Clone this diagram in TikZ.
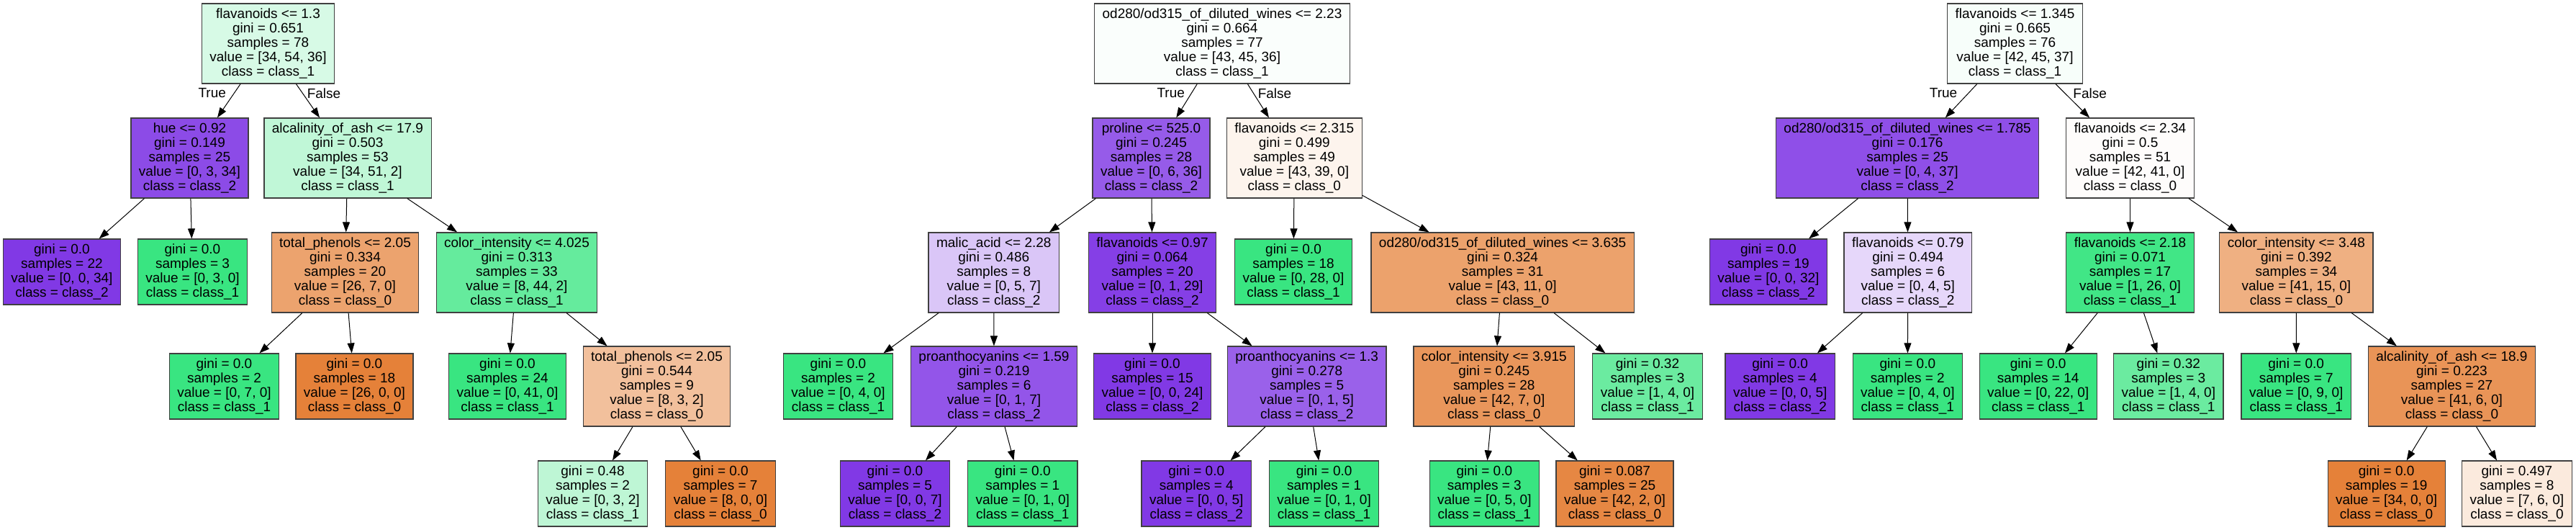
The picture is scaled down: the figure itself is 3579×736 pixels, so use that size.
\documentclass[tikz,border=0pt]{standalone}
\usepackage{fontspec}
\setmainfont{Liberation Sans}
\usetikzlibrary{arrows.meta}
\definecolor{corange}{RGB}{229,129,57}
\definecolor{cgreen}{RGB}{57,229,129}
\definecolor{cpurple}{RGB}{129,57,229}
\newcommand\splittxt[5]{#1\\gini = #2\\samples = #3\\value = [#4]\\class = class\_#5}
\newcommand\leaftxt[4]{gini = #1\\samples = #2\\value = [#3]\\class = class\_#4}
\begin{document}
\begin{tikzpicture}[x=1pt,y=-1pt,
  box/.style={draw=black!75, line width=1.2pt, rectangle, align=center, inner xsep=11pt, inner ysep=0pt, font=\fontsize{19}{20}\selectfont},
  split/.style={box, minimum height=111pt},
  leaf/.style={box, minimum height=91pt},
  edge/.style={draw=black, line width=1pt, -{Triangle[length=14pt,width=10pt]}},
  elab/.style={font=\fontsize{19}{20}\selectfont, inner sep=0pt}
]
\fill[white] (0,0) rectangle (3579,736);
\useasboundingbox (0,0) rectangle (3579,736);

% ---------- Tree 1 ----------
\node[split, fill=cgreen!20!white] (a0) at (372.5,60.5) {\splittxt{flavanoids <= 1.3}{0.651}{78}{34, 54, 36}{1}};
\node[split, fill=cpurple!91!white] (a1) at (263.5,219.5) {\splittxt{hue <= 0.92}{0.149}{25}{0, 3, 34}{2}};
\node[split, fill=cgreen!32!white] (a2) at (483,219.5) {\splittxt{alcalinity\_of\_ash <= 17.9}{0.503}{53}{34, 51, 2}{1}};
\node[leaf, fill=cpurple] (a3) at (86,377.5) {\leaftxt{0.0}{22}{0, 0, 34}{2}};
\node[leaf, fill=cgreen] (a4) at (267.5,377.5) {\leaftxt{0.0}{3}{0, 3, 0}{1}};
\node[split, fill=corange!73!white] (a5) at (479.5,378.5) {\splittxt{total\_phenols <= 2.05}{0.334}{20}{26, 7, 0}{0}};
\node[split, fill=cgreen!78!white] (a6) at (718,378.5) {\splittxt{color\_intensity <= 4.025}{0.313}{33}{8, 44, 2}{1}};
\node[leaf, fill=cgreen] (a7) at (311.5,536.5) {\leaftxt{0.0}{2}{0, 7, 0}{1}};
\node[leaf, fill=corange] (a8) at (492.5,536.5) {\leaftxt{0.0}{18}{26, 0, 0}{0}};
\node[leaf, fill=cgreen] (a9) at (705,536.5) {\leaftxt{0.0}{24}{0, 41, 0}{1}};
\node[split, fill=corange!50!white] (a10) at (912.5,536.5) {\splittxt{total\_phenols <= 2.05}{0.544}{9}{8, 3, 2}{0}};
\node[leaf, fill=cgreen!33!white] (a11) at (823.5,685.5) {\leaftxt{0.48}{2}{0, 3, 2}{1}};
\node[leaf, fill=corange] (a12) at (1001,685.5) {\leaftxt{0.0}{7}{8, 0, 0}{0}};
\foreach \p/\c in {a0/a1,a0/a2,a1/a3,a1/a4,a2/a5,a2/a6,a5/a7,a5/a8,a6/a9,a6/a10,a10/a11,a10/a12}
  \draw[edge] (\p) -- (\c);
\node[elab] (ta) at (294.7,129.5) {True};
\node[elab] (fa) at (450,129.5) {False};

% ---------- Tree 2 ----------
\node[split, fill=cgreen!2.5!white] (b0) at (1698,60.5) {\splittxt{od280/od315\_of\_diluted\_wines <= 2.23}{0.664}{77}{43, 45, 36}{1}};
\node[split, fill=cpurple!83!white] (b1) at (1599.5,219.5) {\splittxt{proline <= 525.0}{0.245}{28}{0, 6, 36}{2}};
\node[split, fill=corange!9!white] (b2) at (1798.3,219.5) {\splittxt{flavanoids <= 2.315}{0.499}{49}{43, 39, 0}{0}};
\node[split, fill=cpurple!29!white] (b3) at (1380.8,378.5) {\splittxt{malic\_acid <= 2.28}{0.486}{8}{0, 5, 7}{2}};
\node[split, fill=cpurple!97!white] (b4) at (1601,378.5) {\splittxt{flavanoids <= 0.97}{0.064}{20}{0, 1, 29}{2}};
\node[leaf, fill=cgreen] (b5) at (1797,377.5) {\leaftxt{0.0}{18}{0, 28, 0}{1}};
\node[split, fill=corange!74!white] (b6) at (2087.6,378.5) {\splittxt{od280/od315\_of\_diluted\_wines <= 3.635}{0.324}{31}{43, 11, 0}{0}};
\node[leaf, fill=cgreen] (b7) at (1164.5,536.5) {\leaftxt{0.0}{2}{0, 4, 0}{1}};
\node[split, fill=cpurple!86!white] (b8) at (1381,536.5) {\splittxt{proanthocyanins <= 1.59}{0.219}{6}{0, 1, 7}{2}};
\node[leaf, fill=cpurple] (b9) at (1601,536.5) {\leaftxt{0.0}{15}{0, 0, 24}{2}};
\node[split, fill=cpurple!80!white] (b10) at (1815.7,536.5) {\splittxt{proanthocyanins <= 1.3}{0.278}{5}{0, 1, 5}{2}};
\node[split, fill=corange!83!white] (b11) at (2075.8,536.5) {\splittxt{color\_intensity <= 3.915}{0.245}{28}{42, 7, 0}{0}};
\node[leaf, fill=cgreen!75!white] (b12) at (2289,536.5) {\leaftxt{0.32}{3}{1, 4, 0}{1}};
\node[leaf, fill=cpurple] (b13) at (1243.5,685.5) {\leaftxt{0.0}{5}{0, 0, 7}{2}};
\node[leaf, fill=cgreen] (b14) at (1420.8,685.5) {\leaftxt{0.0}{1}{0, 1, 0}{1}};
\node[leaf, fill=cpurple] (b15) at (1662.3,685.5) {\leaftxt{0.0}{4}{0, 0, 5}{2}};
\node[leaf, fill=cgreen] (b16) at (1839.6,685.5) {\leaftxt{0.0}{1}{0, 1, 0}{1}};
\node[leaf, fill=cgreen] (b17) at (2062.3,685.5) {\leaftxt{0.0}{3}{0, 5, 0}{1}};
\node[leaf, fill=corange!95!white] (b18) at (2243.5,685.5) {\leaftxt{0.087}{25}{42, 2, 0}{0}};
\foreach \p/\c in {b0/b1,b0/b2,b1/b3,b1/b4,b3/b7,b3/b8,b8/b13,b8/b14,b4/b9,b4/b10,b10/b15,b10/b16,b2/b5,b2/b6,b6/b11,b6/b12,b11/b17,b11/b18}
  \draw[edge] (\p) -- (\c);
\node[elab] (tb) at (1626.7,129.5) {True};
\node[elab] (fb) at (1771,129.5) {False};

% ---------- Tree 3 ----------
\node[split, fill=cgreen!4!white] (c0) at (2799.5,60.5) {\splittxt{flavanoids <= 1.345}{0.665}{76}{42, 45, 37}{1}};
\node[split, fill=cpurple!89!white] (c1) at (2650.1,219.5) {\splittxt{od280/od315\_of\_diluted\_wines <= 1.785}{0.176}{25}{0, 4, 37}{2}};
\node[split, fill=corange!2!white] (c2) at (2959.5,219.5) {\splittxt{flavanoids <= 2.34}{0.5}{51}{42, 41, 0}{0}};
\node[leaf, fill=cpurple] (c3) at (2456.9,377.5) {\leaftxt{0.0}{19}{0, 0, 32}{2}};
\node[split, fill=cpurple!20!white] (c4) at (2650.7,378.5) {\splittxt{flavanoids <= 0.79}{0.494}{6}{0, 4, 5}{2}};
\node[split, fill=cgreen!96!white] (c5) at (2959.5,378.5) {\splittxt{flavanoids <= 2.18}{0.071}{17}{1, 26, 0}{1}};
\node[split, fill=corange!63!white] (c6) at (3190.4,378.5) {\splittxt{color\_intensity <= 3.48}{0.392}{34}{41, 15, 0}{0}};
\node[leaf, fill=cpurple] (c7) at (2473.2,536.5) {\leaftxt{0.0}{4}{0, 0, 5}{2}};
\node[leaf, fill=cgreen] (c8) at (2650.3,536.5) {\leaftxt{0.0}{2}{0, 4, 0}{1}};
\node[leaf, fill=cgreen] (c9) at (2831.7,536.5) {\leaftxt{0.0}{14}{0, 22, 0}{1}};
\node[leaf, fill=cgreen!75!white] (c10) at (3012.8,536.5) {\leaftxt{0.32}{3}{1, 4, 0}{1}};
\node[leaf, fill=cgreen] (c11) at (3190.2,536.5) {\leaftxt{0.0}{7}{0, 9, 0}{1}};
\node[split, fill=corange!85!white] (c12) at (3406.4,536.5) {\splittxt{alcalinity\_of\_ash <= 18.9}{0.223}{27}{41, 6, 0}{0}};
\node[leaf, fill=corange] (c13) at (3315.6,685.5) {\leaftxt{0.0}{19}{34, 0, 0}{0}};
\node[leaf, fill=corange!17!white] (c14) at (3496.9,685.5) {\leaftxt{0.497}{8}{7, 6, 0}{0}};
\foreach \p/\c in {c0/c1,c0/c2,c1/c3,c1/c4,c4/c7,c4/c8,c2/c5,c2/c6,c5/c9,c5/c10,c6/c11,c6/c12,c12/c13,c12/c14}
  \draw[edge] (\p) -- (\c);
\node[elab] (tc) at (2700,129.5) {True};
\node[elab] (fc) at (2903.6,129.5) {False};
\end{tikzpicture}
\end{document}
